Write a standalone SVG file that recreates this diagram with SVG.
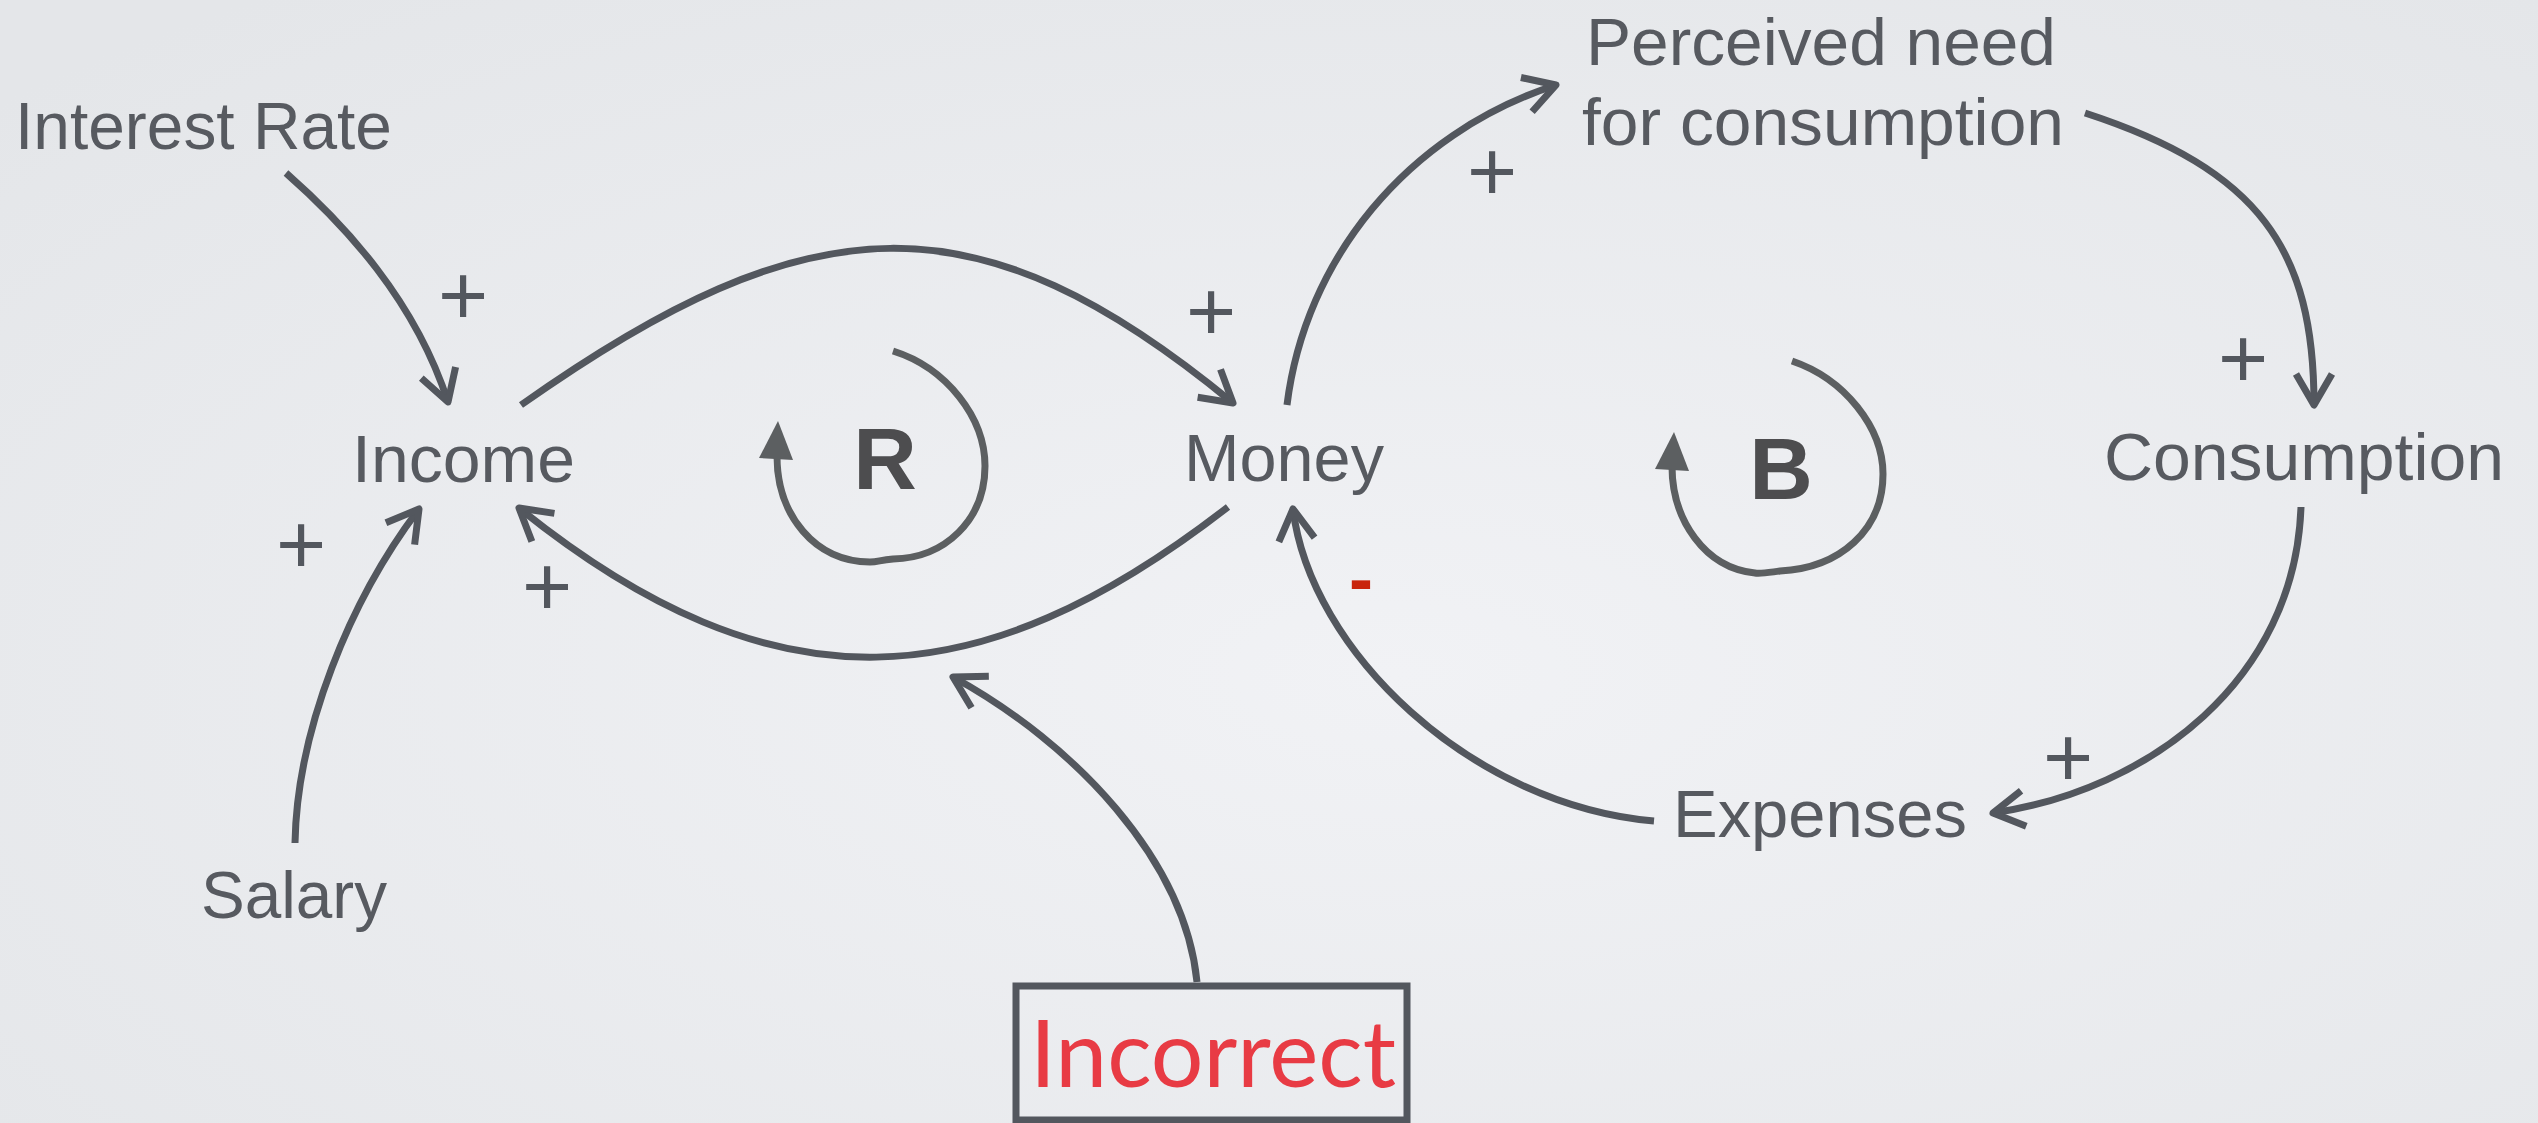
<svg xmlns="http://www.w3.org/2000/svg" width="2538" height="1123" viewBox="0 0 2538 1123">
<defs>
<radialGradient id="bg" cx="55%" cy="60%" r="75%">
<stop offset="0" stop-color="#f1f2f5"/>
<stop offset="1" stop-color="#e4e6e9"/>
</radialGradient>
<marker id="ah" markerUnits="userSpaceOnUse" orient="auto" markerWidth="80" markerHeight="80" refX="0" refY="0" overflow="visible">
<path d="M-31,-18 L0,0 L-31,18" fill="none" stroke="#53575e" stroke-width="7" stroke-linejoin="round" stroke-linecap="butt"/>
</marker>
<style>
.lbl{font-family:"Liberation Sans",Arial,sans-serif;font-size:67px;fill:#575a60}
.pol{font-family:"Liberation Sans",Arial,sans-serif;font-size:86px;fill:#53575e;text-anchor:middle}
.loopl{font-family:"Liberation Sans",Arial,sans-serif;font-weight:bold;font-size:88px;fill:#4d4d4f;text-anchor:middle}
.con{fill:none;stroke:#53575e;stroke-width:7;marker-end:url(#ah)}
.loop{fill:none;stroke:#5c5f61;stroke-width:7}
.loophead{fill:#5c5f61}
</style>
</defs>
<rect x="0" y="0" width="2538" height="1123" fill="url(#bg)"/>

<g id="connectors">
<path class="con" d="M286,173 C345,225 415,300 448,402"/>
<path class="con" d="M295,843 C297,730 350,600 419,509"/>
<path class="con" d="M521,405 C811,200 978,193 1233,403"/>
<path class="con" d="M1228,507 C979,700 775,714 519,508"/>
<path class="con" d="M1287,405 C1305,260 1406,134 1556,85"/>
<path class="con" d="M2085,113 C2260,170 2314,250 2314,405"/>
<path class="con" d="M2301,507 C2295,680 2150,790 1993,813"/>
<path class="con" d="M1654,821 C1470,805 1310,650 1293,509"/>
<path class="con" d="M1197,982 C1185,860 1075,744 953,677"/>
</g>

<g id="loop-R">
<path class="loop" d="M893,351 C947,368 985,418 985,466 C985,520 945,558 893,559 C880,560 878,562 870,562 C815,562 777,515 777,456"/>
<polygon class="loophead" points="778,421 759,458 793,460"/>
<text class="loopl" x="885" y="489">R</text>
</g>
<g id="loop-B">
<path class="loop" d="M1792,361 C1845,379 1883,428 1883,474 C1883,530 1840,568 1780,571 C1765,573 1760,574 1755,573 C1705,568 1672,520 1672,466"/>
<polygon class="loophead" points="1674,432 1655,469 1689,471"/>
<text class="loopl" x="1781" y="499">B</text>
</g>

<g id="node-interest-rate"><text class="lbl" x="15" y="149" textLength="377" lengthAdjust="spacingAndGlyphs">Interest Rate</text></g>
<g id="node-income"><text class="lbl" x="352" y="482" textLength="223" lengthAdjust="spacingAndGlyphs">Income</text></g>
<g id="node-money"><text class="lbl" x="1184" y="481" textLength="200" lengthAdjust="spacingAndGlyphs">Money</text></g>
<g id="node-perceived-need">
<text class="lbl" x="1821" y="65" text-anchor="middle" textLength="470" lengthAdjust="spacingAndGlyphs">Perceived need</text>
<text class="lbl" x="1823" y="145" text-anchor="middle" textLength="482" lengthAdjust="spacingAndGlyphs">for consumption</text>
</g>
<g id="node-consumption"><text class="lbl" x="2104" y="480" textLength="400" lengthAdjust="spacingAndGlyphs">Consumption</text></g>
<g id="node-expenses"><text class="lbl" x="1673" y="837" textLength="294" lengthAdjust="spacingAndGlyphs">Expenses</text></g>
<g id="node-salary"><text class="lbl" x="201" y="918" textLength="186" lengthAdjust="spacingAndGlyphs">Salary</text></g>
<g id="node-incorrect">
<rect x="1016" y="986" width="391" height="134" fill="none" stroke="#53575e" stroke-width="7"/>
<text x="1030" y="1087" textLength="366" lengthAdjust="spacingAndGlyphs" style="font-family:Lato,'Open Sans',sans-serif;font-size:94px;fill:#e83b44">Incorrect</text>
</g>

<g id="polarities">
<text class="pol" x="463" y="325">+</text>
<text class="pol" x="1211" y="341">+</text>
<text class="pol" x="301" y="574">+</text>
<text class="pol" x="547" y="616">+</text>
<text class="pol" x="1492" y="201">+</text>
<text class="pol" x="2243" y="388">+</text>
<text class="pol" x="2068" y="787">+</text>
<text x="1361" y="603" text-anchor="middle" style="font-family:'Liberation Sans',Arial,sans-serif;font-weight:bold;font-size:72px;fill:#c9250d">-</text>
</g>
</svg>
